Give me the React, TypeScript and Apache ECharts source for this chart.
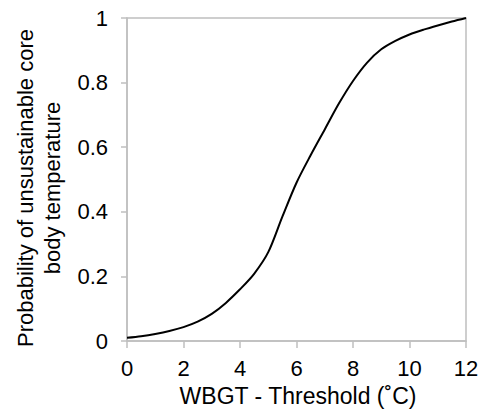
import React, { useEffect, useRef } from "react";
import * as echarts from "echarts";

const xValues = [0, 0.5, 1, 1.5, 2, 2.5, 3, 3.5, 4, 4.5, 5, 5.5, 6, 6.5, 7, 7.5, 8, 8.5, 9, 9.5, 10, 10.5, 11, 11.5, 12];
const probValues = [0.01, 0.015, 0.022, 0.031, 0.043, 0.06, 0.084, 0.118, 0.16, 0.208, 0.275, 0.385, 0.49, 0.575, 0.655, 0.735, 0.805, 0.862, 0.903, 0.929, 0.949, 0.964, 0.977, 0.989, 1.0];

const xTitle = "WBGT - Threshold (˚C)";
const yTitleLines = ["Probability of unsustainable core", "body temperature"];

const FONT = "Liberation Sans, Arial, sans-serif";
const GRAY = "#bfbfbf";

export default function App() {
  const ref = useRef<HTMLDivElement>(null);
  useEffect(() => {
    if (!ref.current) return;
    const chart = echarts.init(ref.current, undefined, { renderer: "svg" });
    const data = xValues.map((x, i) => [x, probValues[i]]);
    chart.setOption({
      animation: false,
      backgroundColor: "#fff",
      grid: {
        left: 127,
        right: 16,
        top: 18,
        bottom: 73,
        show: true,
        borderColor: GRAY,
        borderWidth: 1.5,
      },
      xAxis: {
        type: "value",
        min: 0,
        max: 12,
        interval: 2,
        axisLine: { show: true, lineStyle: { color: GRAY, width: 1.5 } },
        axisTick: { show: true, length: 7, lineStyle: { color: GRAY, width: 1.5 } },
        splitLine: { show: false },
        axisLabel: { color: "#000", fontSize: 22, fontFamily: FONT, margin: 16 },
      },
      yAxis: {
        type: "value",
        min: 0,
        max: 1,
        interval: 0.2,
        axisLine: { show: true, lineStyle: { color: GRAY, width: 1.5 } },
        axisTick: { show: true, length: 6, lineStyle: { color: GRAY, width: 1.5 } },
        splitLine: { show: false },
        axisLabel: {
          color: "#000",
          fontSize: 22,
          fontFamily: FONT,
          margin: 19,
          formatter: (v: number) => String(+v.toFixed(1)),
        },
      },
      graphic: [
        {
          type: "text",
          x: 298,
          y: 396,
          style: {
            text: xTitle,
            fill: "#000",
            font: `23px ${FONT}`,
            align: "center",
            verticalAlign: "middle",
          },
        },
        {
          type: "text",
          x: 25,
          y: 188,
          rotation: Math.PI / 2,
          style: {
            text: yTitleLines[0],
            fill: "#000",
            font: `22px ${FONT}`,
            align: "center",
            verticalAlign: "middle",
          },
        },
        {
          type: "text",
          x: 52,
          y: 188,
          rotation: Math.PI / 2,
          style: {
            text: yTitleLines[1],
            fill: "#000",
            font: `22px ${FONT}`,
            align: "center",
            verticalAlign: "middle",
          },
        },
      ],
      series: [
        {
          type: "line",
          data,
          smooth: 0.3,
          showSymbol: false,
          lineStyle: { color: "#000", width: 2 },
        },
      ],
    });
    return () => chart.dispose();
  }, []);
  return <div ref={ref} style={{ width: 482, height: 414, position: "absolute", left: 0, top: 0 }} />;
}
